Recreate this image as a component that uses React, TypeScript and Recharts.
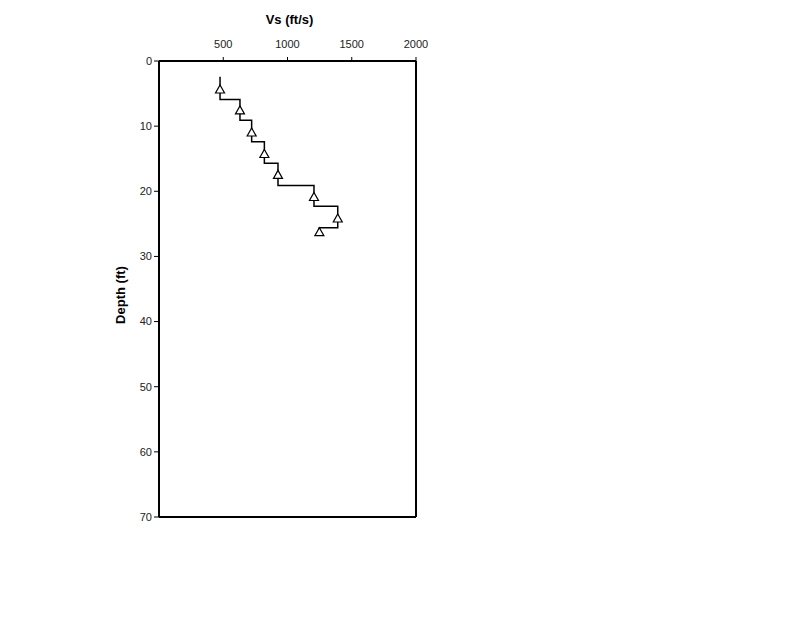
import { ScatterChart, Scatter, XAxis, YAxis, ReferenceLine } from "recharts";

// shear wave velocity profile (ft/s) vs depth (ft)
const layerVs = [475, 630, 721, 820, 926, 1206, 1391, 1248];
const layerTop = [2.4, 5.9, 9.1, 12.4, 15.7, 19.1, 22.3, 25.6];
const layerBottom = [5.9, 9.1, 12.4, 15.7, 19.1, 22.3, 25.6, 26.2];

const pointVs = [475, 630, 721, 820, 926, 1206, 1391, 1248];
const pointDepth = [4.3, 7.5, 10.9, 14.2, 17.4, 20.8, 24.1, 26.2];

const vsTicks = [500, 1000, 1500, 2000];
const depthTicks = [0, 10, 20, 30, 40, 50, 60, 70];

const stepData = layerVs.flatMap((vs, i) => [
    { vs, depth: layerTop[i] },
    { vs, depth: layerBottom[i] },
]);

const pointData = pointVs.map((vs, i) => ({ vs, depth: pointDepth[i] }));

const FONT = '"Liberation Sans", Arial, sans-serif';

const NoDot = () => <g />;

const Triangle = (props: any) => {
    const { cx, cy } = props;
    if (cx == null || cy == null) return <g />;
    const w = 4.5;
    const h = 4;
    return (
        <path
            d={`M${cx},${cy - h} L${cx + w},${cy + h} L${cx - w},${cy + h} Z`}
            fill="#fff"
            stroke="#000"
            strokeWidth={1.2}
        />
    );
};

const XTitle = (props: any) => {
    const vb = props.viewBox || {};
    return (
        <text x={vb.x + vb.width / 2 + 2} y={24} textAnchor="middle" fontFamily={FONT} fontSize={13} fontWeight="bold" fill="#000">
            Vs (ft/s)
        </text>
    );
};

const YTitle = (props: any) => {
    const vb = props.viewBox || {};
    const cy = vb.y + vb.height / 2 + 6;
    return (
        <text x={125} y={cy} transform={`rotate(-90 125 ${cy})`} textAnchor="middle" fontFamily={FONT} fontSize={13} fontWeight="bold" fill="#000">
            Depth (ft)
        </text>
    );
};

export default function App() {
    return (
        <div style={{ position: "absolute", left: 0, top: 0, background: "#fff" }}>
            <ScatterChart width={800} height={618} margin={{ top: 31, right: 384, bottom: 101, left: 99 }}>
                <XAxis
                    type="number"
                    dataKey="vs"
                    orientation="top"
                    domain={[0, 2000]}
                    ticks={vsTicks}
                    height={30}
                    tickSize={4}
                    tickMargin={9}
                    axisLine={{ stroke: "#000", strokeWidth: 2 }}
                    tickLine={{ stroke: "#000" }}
                    tick={{ fontSize: 11, fill: "#222", fontFamily: FONT }}
                    label={{ content: XTitle }}
                />
                <YAxis
                    type="number"
                    dataKey="depth"
                    domain={[0, 70]}
                    ticks={depthTicks}
                    reversed
                    width={60}
                    tickSize={5}
                    tickMargin={2}
                    axisLine={{ stroke: "#000", strokeWidth: 2 }}
                    tickLine={{ stroke: "#000" }}
                    tick={{ fontSize: 11, fill: "#222", fontFamily: FONT }}
                    label={{ content: YTitle }}
                />
                <ReferenceLine x={2000} stroke="#000" strokeWidth={2} />
                <ReferenceLine y={70} stroke="#000" strokeWidth={2} />
                <Scatter
                    data={stepData}
                    line={{ stroke: "#000", strokeWidth: 1.5 }}
                    shape={NoDot}
                    isAnimationActive={false}
                />
                <Scatter data={pointData} shape={Triangle} isAnimationActive={false} />
            </ScatterChart>
        </div>
    );
}
